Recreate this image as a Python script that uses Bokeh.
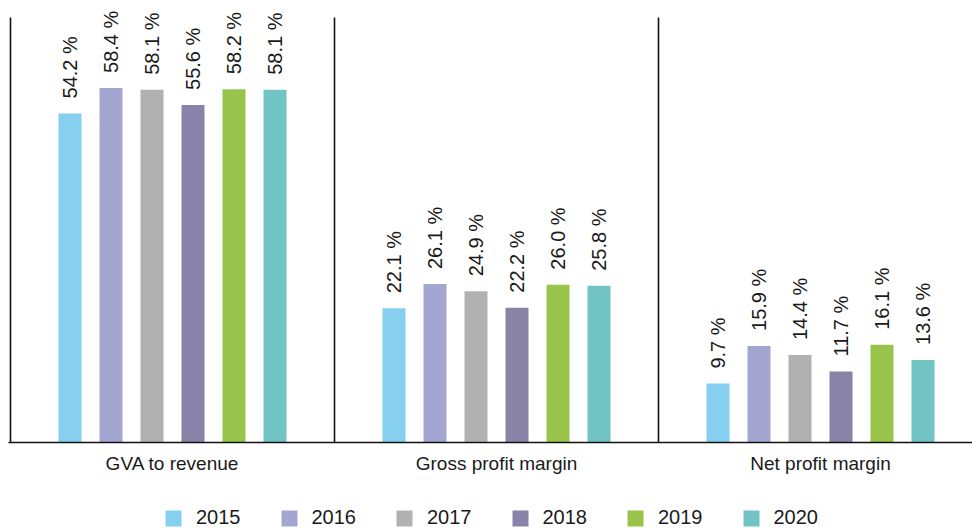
import math
from bokeh.plotting import figure
from bokeh.layouts import column
from bokeh.models import ColumnDataSource, FixedTicker, Legend, LegendItem
from bokeh.core.properties import value
from bokeh.embed import file_html
from bokeh.resources import INLINE

groups = ["GVA to revenue", "Gross profit margin", "Net profit margin"]
years = ["2015", "2016", "2017", "2018", "2019", "2020"]
v2015 = [54.2, 22.1, 9.7]
v2016 = [58.4, 26.1, 15.9]
v2017 = [58.1, 24.9, 14.4]
v2018 = [55.6, 22.2, 11.7]
v2019 = [58.2, 26.0, 16.1]
v2020 = [58.1, 25.8, 13.6]
series = [v2015, v2016, v2017, v2018, v2019, v2020]
colors = ["#86CFEE", "#A4A6D2", "#B1B1B1", "#8A83A8", "#99C44B", "#71C4C3"]
axis_max = 70

FONT = "Liberation Sans"
group_px = 324.0
bar_w = 23 / group_px
pitch = 41 / group_px
px_per_unit = 425 / axis_max

p = figure(width=972, height=480, output_backend="svg", toolbar_location=None,
           x_range=(-2 / group_px, 962 / group_px), y_range=(0, 442 / px_per_unit),
           min_border_left=8, min_border_right=0, min_border_top=0, min_border_bottom=38)
p.outline_line_color = None
p.xgrid.visible = False
p.ygrid.visible = False
p.yaxis.visible = False

for j, (yr, vals, col) in enumerate(zip(years, series, colors)):
    xs = [i + 0.5 + (j - 2.5) * pitch for i in range(len(groups))]
    src = ColumnDataSource(dict(x=xs, top=vals, label=[f"{v:.1f} %" for v in vals]))
    p.vbar(x="x", top="top", width=bar_w, source=src, fill_color=col, line_color=None)
    p.text(x="x", y="top", text="label", source=src, angle=math.pi / 2,
           text_align="left", text_baseline="middle", y_offset=-15,
           text_font=value(FONT), text_font_size="20px", text_color="#1a1a1a")

sep = ColumnDataSource(dict(x=list(range(len(groups))), y0=[0] * len(groups),
                            y1=[axis_max] * len(groups)))
p.segment(x0="x", y0="y0", x1="x", y1="y1", source=sep, line_color="#111111", line_width=1.6)

xa = p.xaxis[0]
xa.ticker = FixedTicker(ticks=[i + 0.5 for i in range(len(groups))])
xa.major_label_overrides = {i + 0.5: g for i, g in enumerate(groups)}
xa.major_tick_line_color = None
xa.minor_tick_line_color = None
xa.axis_line_color = "#111111"
xa.axis_line_width = 1.6
xa.major_label_text_font = FONT
xa.major_label_text_font_size = "19px"
xa.major_label_text_color = "#1a1a1a"
xa.major_label_standoff = 4

# legend strip
p2 = figure(width=972, height=48, output_backend="svg", toolbar_location=None,
            x_axis_type=None, y_axis_type=None, min_border=0,
            x_range=(0, 1), y_range=(0, 1))
p2.outline_line_color = None
p2.xgrid.visible = False
p2.ygrid.visible = False
items = []
for yr, col in zip(years, colors):
    src = ColumnDataSource(dict(x=[-5.0], top=[0.0]))
    r = p2.vbar(x="x", top="top", width=0.1, source=src, fill_color=col, line_color=None)
    items.append(LegendItem(label=yr, renderers=[r]))
lg = Legend(items=items, orientation="horizontal", location=(155, -1),
            border_line_color=None, background_fill_alpha=0, padding=0, margin=0,
            spacing=38, glyph_width=20, glyph_height=20, label_standoff=13,
            label_text_font=FONT, label_text_font_size="20px",
            label_text_color="#1a1a1a", label_height=20)
p2.add_layout(lg)

open("out.html", "w").write(file_html(column(p, p2, spacing=0), INLINE))
